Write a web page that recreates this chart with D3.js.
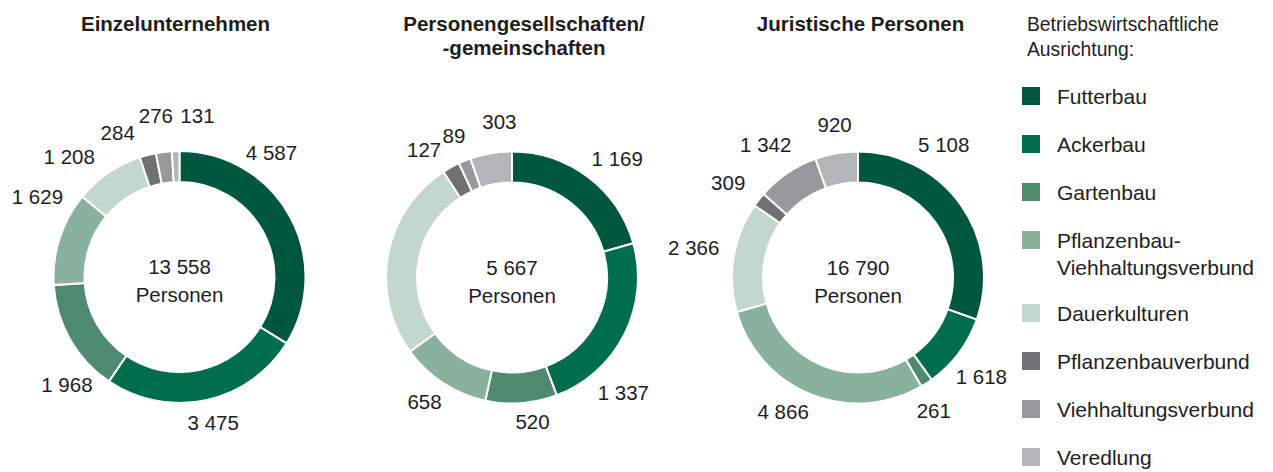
<!DOCTYPE html>
<html>
<head>
<meta charset="utf-8">
<script src="https://cdn.jsdelivr.net/npm/d3@7"></script>
<style>
  body { margin: 0; background: #fff; }
  text { font-family: "Liberation Sans", Arial, sans-serif; fill: #1e1e1e; }
</style>
</head>
<body>
<div id="chart"></div>
<script>
// categories (legend order = slice order)
const categories = ["Futterbau", "Ackerbau", "Gartenbau", "Pflanzenbau-\nViehhaltungsverbund",
  "Dauerkulturen", "Pflanzenbauverbund", "Viehhaltungsverbund", "Veredlung"];
const colors = ["#00573f", "#006d4d", "#4f8a6f", "#8ab19b", "#c3d7cc", "#6f7173", "#98999b", "#b4b5b7"];

// values per legal form
const einzel = [4587, 3475, 1968, 1629, 1208, 284, 276, 131];
const personenGes = [1169, 1337, 520, 658, 1464, 127, 89, 303];
const juristisch = [5108, 1618, 261, 4866, 2366, 309, 1342, 920];

const titles = [["Einzelunternehmen"], ["Personengesellschaften/", "-gemeinschaften"], ["Juristische Personen"]];
const totals = [13558, 5667, 16790];
// Dauerkulturen of the middle chart carries no label in the original
const hideLabel = [[], [4], []];

// label nudges: [angle offset in degrees, radius]
const nudges = [
  [[-24.5, 155], [-1, 149], [-14, 156], [11.4, 163], [-8.2, 163], [-8.6, 157], [-1.2, 163], [8.1, 162]],
  [[4.3, 159], [19.2, 160], [-3.8, 146], [2, 152], [0, 157], [-5.6, 155], [-0.2, 153], [5, 156]],
  [[-21.9, 158], [1.8, 158], [3.3, 153], [7.1, 154], [0.8, 167], [-1.9, 161], [-0.6, 162], [1.2, 155]]
];

const width = 1273, height = 472;
const fmt = v => d3.format(",")(v).replace(/,/g, " ");

const svg = d3.select("#chart").append("svg")
  .attr("width", width)
  .attr("height", height);

const centers = [[179.5, 277], [512, 277.5], [858, 277.5]];
const titleX = [175.5, 524, 860.5];
const outerR = 126, innerR = 95;

const pie = d3.pie().sort(null).value(d => d);
const arc = d3.arc().innerRadius(innerR).outerRadius(outerR);

[einzel, personenGes, juristisch].forEach((vals, k) => {
  const [cx, cy] = centers[k];

  // title
  const t = svg.append("text")
    .attr("x", titleX[k])
    .attr("y", 31)
    .attr("text-anchor", "middle")
    .style("font-size", "20.5px")
    .style("font-weight", "bold");
  titles[k].forEach((line, i) => {
    t.append("tspan").attr("x", titleX[k]).attr("dy", i ? 24 : 0).text(line);
  });

  const g = svg.append("g").attr("transform", `translate(${cx},${cy})`);
  const arcs = pie(vals);

  g.selectAll("path")
    .data(arcs)
    .join("path")
    .attr("d", arc)
    .attr("fill", (d, i) => colors[i])
    .attr("stroke", "#fff")
    .attr("stroke-width", 2);

  // value labels
  g.selectAll("text.val")
    .data(arcs.filter((d, i) => !hideLabel[k].includes(i)))
    .join("text")
    .attr("class", "val")
    .attr("transform", d => {
      const n = nudges[k][d.index];
      const a = (d.startAngle + d.endAngle) / 2 + n[0] * Math.PI / 180;
      return `translate(${n[1] * Math.sin(a)},${-n[1] * Math.cos(a)})`;
    })
    .attr("text-anchor", "middle")
    .attr("dy", "0.36em")
    .style("font-size", "20.5px")
    .text(d => fmt(d.value));

  // centre text
  g.append("text")
    .attr("text-anchor", "middle")
    .attr("y", -10)
    .attr("dy", "0.36em")
    .style("font-size", "20.5px")
    .text(fmt(totals[k]));
  g.append("text")
    .attr("text-anchor", "middle")
    .attr("y", 18)
    .attr("dy", "0.36em")
    .style("font-size", "20.5px")
    .text("Personen");
});

// legend
const lg = svg.append("g");
const lt = lg.append("text").attr("x", 1027).attr("y", 31).style("font-size", "19.3px");
lt.append("tspan").attr("x", 1027).text("Betriebswirtschaftliche");
lt.append("tspan").attr("x", 1027).attr("dy", 25).text("Ausrichtung:");

const itemY = i => 96 + 48 * i + (i > 3 ? 25 : 0);

const items = lg.selectAll("g.item")
  .data(categories)
  .join("g")
  .attr("class", "item")
  .attr("transform", (d, i) => `translate(0,${itemY(i)})`);

items.append("rect")
  .attr("x", 1022)
  .attr("y", -9)
  .attr("width", 18)
  .attr("height", 18)
  .attr("fill", (d, i) => colors[i]);

items.append("text")
  .attr("x", 1057)
  .style("font-size", "21px")
  .each(function(d) {
    d.split("\n").forEach((line, i) => {
      d3.select(this).append("tspan").attr("x", 1057).attr("dy", i ? 27 : "0.36em").text(line);
    });
  });
</script>
</body>
</html>
